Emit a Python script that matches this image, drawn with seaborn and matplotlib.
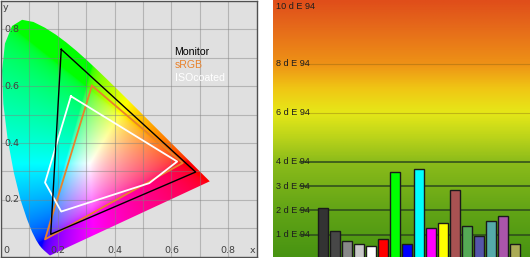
import numpy as np
import pandas as pd
import matplotlib
matplotlib.use("Agg")
import matplotlib.pyplot as plt
from matplotlib.patches import Polygon
from matplotlib.colors import LinearSegmentedColormap
import seaborn as sns

# ---------------- data ----------------
# CIE 1931 spectral locus (x, y)
locus_x = [0.1741, 0.1740, 0.1738, 0.1736, 0.1733, 0.1730, 0.1726, 0.1721, 0.1714, 0.1703,
           0.1689, 0.1669, 0.1644, 0.1611, 0.1566, 0.1510, 0.1440, 0.1355, 0.1241, 0.1096,
           0.0913, 0.0687, 0.0454, 0.0235, 0.0082, 0.0039, 0.0139, 0.0389, 0.0743, 0.1142,
           0.1547, 0.1929, 0.2296, 0.2658, 0.3016, 0.3373, 0.3731, 0.4087, 0.4441, 0.4788,
           0.5125, 0.5448, 0.5752, 0.6029, 0.6270, 0.6482, 0.6658, 0.6801, 0.6915, 0.7006,
           0.7079, 0.7140, 0.7190, 0.7230, 0.7260, 0.7283, 0.7300, 0.7311, 0.7320, 0.7334,
           0.7344, 0.7347]
locus_y = [0.0050, 0.0050, 0.0049, 0.0049, 0.0048, 0.0048, 0.0048, 0.0048, 0.0051, 0.0058,
           0.0069, 0.0086, 0.0109, 0.0138, 0.0177, 0.0227, 0.0297, 0.0399, 0.0578, 0.0868,
           0.1327, 0.2007, 0.2950, 0.4127, 0.5384, 0.6548, 0.7502, 0.8120, 0.8338, 0.8262,
           0.8059, 0.7816, 0.7543, 0.7243, 0.6923, 0.6589, 0.6245, 0.5896, 0.5547, 0.5202,
           0.4866, 0.4544, 0.4242, 0.3965, 0.3725, 0.3514, 0.3340, 0.3197, 0.3083, 0.2993,
           0.2920, 0.2859, 0.2809, 0.2770, 0.2740, 0.2717, 0.2700, 0.2689, 0.2680, 0.2666,
           0.2656, 0.2653]

monitor_x = [0.212, 0.685, 0.175, 0.212]
monitor_y = [0.730, 0.298, 0.079, 0.730]
srgb_x = [0.320, 0.640, 0.155, 0.320]
srgb_y = [0.602, 0.330, 0.061, 0.602]
iso_x = [0.246, 0.620, 0.522, 0.212, 0.155, 0.246]
iso_y = [0.565, 0.335, 0.259, 0.159, 0.261, 0.565]

gamut_names = ["Monitor", "sRGB", "ISOcoated"]
gamut_colors = ["#000000", "#e8822c", "#ffffff"]

xy_ticks = [0.2, 0.4, 0.6, 0.8]

patches = ["black", "dark gray", "gray", "light gray", "white", "red", "green", "blue",
           "cyan", "magenta", "yellow", "brown", "mid green", "mid blue", "teal",
           "purple", "olive"]
delta_e = [2.09, 1.16, 0.74, 0.62, 0.54, 0.82, 3.56, 0.62, 3.68, 1.27, 1.48, 2.82,
           1.36, 0.95, 1.56, 1.76, 0.62]
patch_colors = ["#333333", "#474747", "#888888", "#c8c8c8", "#ffffff", "#ff0000",
                "#00ff00", "#0000ff", "#00ffff", "#ff00ff", "#ffff00", "#a85252",
                "#55aa55", "#5555aa", "#55aaaa", "#aa55aa", "#aaaa55"]
de_ticks = [1, 2, 3, 4, 6, 8]
de_labels = ["1 d E 94", "2 d E 94", "3 d E 94", "4 d E 94", "6 d E 94", "8 d E 94"]

# ---------------- figure ----------------
W, H = 530, 258
fig = plt.figure(figsize=(W / 100, H / 100), dpi=100)
fig.patch.set_facecolor("white")

# ----- left: chromaticity diagram -----
ax1 = fig.add_axes([1 / W, 1.3 / H, 255.7 / W, 255.7 / H])
ax1.set_xlim(0, 0.9)
ax1.set_ylim(0, 0.9)
ax1.set_facecolor("#e0e0e0")

n = 500
gx, gy = np.meshgrid(np.linspace(0, 0.9, n), np.linspace(0, 0.9, n))
yy = np.maximum(gy, 1e-4)
X = gx / yy
Y = np.ones_like(gx)
Z = (1 - gx - gy) / yy
M = np.array([[3.2406, -1.5372, -0.4986],
              [-0.9689, 1.8758, 0.0415],
              [0.0557, -0.2040, 1.0570]])
rgb = np.einsum("ij,jkl->kli", M, np.stack([X, Y, Z]))
rgb = np.clip(rgb, 0, None)
rgb = rgb / np.maximum(rgb.max(axis=2, keepdims=True), 1e-9)
rgb = np.clip(rgb, 0, 1) ** (1 / 2.4)
im = ax1.imshow(rgb, extent=[0, 0.9, 0, 0.9], origin="lower", zorder=1,
                interpolation="bilinear", aspect="auto")
poly = Polygon(np.column_stack([locus_x, locus_y]), closed=True, transform=ax1.transData,
               facecolor="none", edgecolor="none")
ax1.add_patch(poly)
im.set_clip_path(poly)

for v in np.arange(0.1, 0.85, 0.1):
    ax1.axvline(v, color="#808080", lw=0.8, alpha=0.45, zorder=2)
    ax1.axhline(v, color="#808080", lw=0.8, alpha=0.45, zorder=2)

for name, gxs, gys, col, lw in zip(gamut_names, [monitor_x, srgb_x, iso_x],
                                   [monitor_y, srgb_y, iso_y], gamut_colors, [1.0, 1.3, 1.3]):
    df = pd.DataFrame({"x": gxs, "y": gys})
    sns.lineplot(data=df, x="x", y="y", sort=False, estimator=None, color=col, lw=lw,
                 ax=ax1, zorder=4 if name == "Monitor" else 3)

for i, (name, col) in enumerate(zip(gamut_names, gamut_colors)):
    ax1.text(0.611, 0.722 - i * 0.047, name, color=col, fontsize=7.6, ha="left",
             va="center", zorder=5, family="Liberation Sans")

tick_col = "#404040"
for v in xy_ticks:
    ax1.text(v, 0.022, f"{v:.1f}", fontsize=6.8, color=tick_col, ha="center", va="center", zorder=5)
    ax1.text(0.012, v, f"{v:.1f}", fontsize=6.8, color=tick_col, ha="left", va="center", zorder=5)
ax1.text(0.018, 0.022, "0", fontsize=6.8, color=tick_col, ha="center", va="center", zorder=5)
ax1.text(0.884, 0.022, "x", fontsize=6.8, color=tick_col, ha="center", va="center", zorder=5)
ax1.text(0.016, 0.878, "y", fontsize=6.8, color=tick_col, ha="center", va="center", zorder=5)
ax1.set_xticks([])
ax1.set_yticks([])
ax1.set_xlabel("")
ax1.set_ylabel("")
for s in ax1.spines.values():
    s.set_color("#505050")
    s.set_linewidth(1.0)

# ----- right: delta E bars -----
ax2 = fig.add_axes([273 / W, 1 / H, 257 / W, 257 / H])
y0, y1 = 0.1, 10.6
ax2.set_ylim(y0, y1)
stops = [(0.1, "#489412"), (2.0, "#62a416"), (4.0, "#8cbc1a"), (5.0, "#bcd41a"),
         (6.0, "#e6e818"), (7.0, "#f0c614"), (8.0, "#ee9216"), (9.5, "#e66a1a"),
         (10.6, "#e04e1a")]
cmap = LinearSegmentedColormap.from_list(
    "de", [((v - y0) / (y1 - y0), c) for v, c in stops])
grad = np.linspace(0, 1, 400).reshape(-1, 1)
xl = (-4.17, 17.25)
ax2.imshow(grad, extent=[xl[0], xl[1], y0, y1], origin="lower", cmap=cmap,
           aspect="auto", zorder=0, interpolation="bilinear")

for v, lab in zip(de_ticks, de_labels):
    if v <= 4:
        ax2.axhline(v, xmin=0.105, xmax=1, color="#2c4a1c", lw=1.1, zorder=1)
    else:
        ax2.axhline(v, xmin=0.11, xmax=1, color="#7a5a10", lw=0.8, alpha=0.35, zorder=1)
    ax2.text(xl[0] + 0.25, v, lab, fontsize=6.6, color="#1e1e1e", ha="left",
             va="center", zorder=3, family="Liberation Sans")
ax2.text(xl[0] + 0.25, 10.35, "10 d E 94", fontsize=6.6, color="#1e1e1e", ha="left",
         va="center", zorder=3, family="Liberation Sans")

bdf = pd.DataFrame({"patch": patches, "dE": delta_e})
sns.barplot(data=bdf, x="patch", y="dE", hue="patch", palette=patch_colors,
            order=patches, hue_order=patches, legend=False, width=0.78,
            edgecolor="#1a1a1a", linewidth=1.0, ax=ax2, zorder=2, saturation=1)
ax2.set_xlim(*xl)
ax2.set_ylim(y0, y1)
ax2.set_xticks([])
ax2.set_yticks([])
ax2.set_xlabel("")
ax2.set_ylabel("")
for s in ax2.spines.values():
    s.set_visible(False)

fig.savefig("out.png", dpi=100)
